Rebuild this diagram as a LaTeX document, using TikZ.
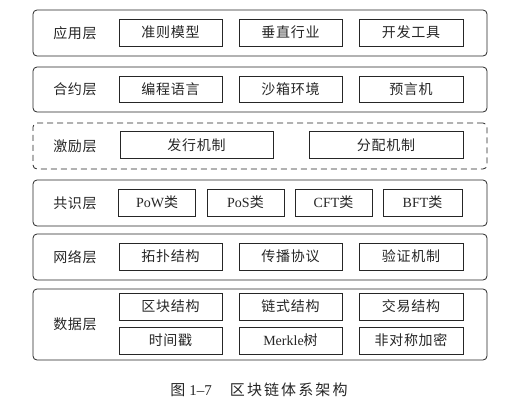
\documentclass[tikz,border=0pt]{standalone}
\usepackage{fontspec}
\setmainfont{Liberation Serif}
\newfontfamily\cjk[LetterSpace=5]{Noto Sans CJK SC}
\newfontfamily\cjkcap[LetterSpace=14]{Noto Sans CJK SC}
\begin{document}
\begin{tikzpicture}[x=1pt,y=-1pt,
  layer/.style={draw=black!85, line width=0.8pt, rounded corners=4pt, minimum width=454pt, inner sep=0pt},
  dlayer/.style={layer, dash pattern=on 6pt off 4pt},
  item/.style={draw=black!85, line width=0.8pt, inner sep=0pt, font=\fontsize{14}{16}\selectfont},
  lab/.style={font=\cjk\fontsize{14}{16}\selectfont, text=black!85},
  every node/.style={text=black!85}]
\useasboundingbox (0,0) rectangle (523,413);
% layers
\node[layer, minimum height=46pt] (L1) at (260,33) {};
\node[layer, minimum height=45pt] (L2) at (260,89.5) {};
\node[dlayer, minimum height=46pt] (L3) at (260,146) {};
\node[layer, minimum height=46pt] (L4) at (260,203) {};
\node[layer, minimum height=46pt] (L5) at (260,257) {};
\node[layer, minimum height=71pt] (L6) at (260,324.5) {};
% labels
\node[lab] (t1) at (75,33) {应用层};
\node[lab] (t2) at (75,89.5) {合约层};
\node[lab] (t3) at (75,146) {激励层};
\node[lab] (t4) at (75,203) {共识层};
\node[lab] (t5) at (75,257) {网络层};
\node[lab] (t6) at (75,324.5) {数据层};
% layer 1
\node[item, minimum width=103pt, minimum height=27pt] (a1) at (170.5,32.5) {\cjk 准则模型};
\node[item, minimum width=103pt, minimum height=27pt] (a2) at (290.5,32.5) {\cjk 垂直行业};
\node[item, minimum width=104pt, minimum height=27pt] (a3) at (411,32.5) {\cjk 开发工具};
% layer 2
\node[item, minimum width=103pt, minimum height=26pt] (b1) at (170.5,89) {\cjk 编程语言};
\node[item, minimum width=103pt, minimum height=26pt] (b2) at (290.5,89) {\cjk 沙箱环境};
\node[item, minimum width=104pt, minimum height=26pt] (b3) at (411,89) {\cjk 预言机};
% layer 3
\node[item, minimum width=153pt, minimum height=27pt] (c1) at (196.5,145) {\cjk 发行机制};
\node[item, minimum width=154pt, minimum height=27pt] (c2) at (386,145) {\cjk 分配机制};
% layer 4
\node[item, minimum width=77pt, minimum height=27pt] (d1) at (157,202.5) {PoW{\cjk 类}};
\node[item, minimum width=77pt, minimum height=27pt] (d2) at (245.5,202.5) {PoS{\cjk 类}};
\node[item, minimum width=77pt, minimum height=27pt] (d3) at (333.5,202.5) {CFT{\cjk 类}};
\node[item, minimum width=79pt, minimum height=27pt] (d4) at (422.5,202.5) {BFT{\cjk 类}};
% layer 5
\node[item, minimum width=103pt, minimum height=27pt] (e1) at (170.5,256.5) {\cjk 拓扑结构};
\node[item, minimum width=103pt, minimum height=27pt] (e2) at (290.5,256.5) {\cjk 传播协议};
\node[item, minimum width=104pt, minimum height=27pt] (e3) at (411,256.5) {\cjk 验证机制};
% layer 6
\node[item, minimum width=103pt, minimum height=27pt] (f1) at (170.5,306.5) {\cjk 区块结构};
\node[item, minimum width=103pt, minimum height=27pt] (f2) at (290.5,306.5) {\cjk 链式结构};
\node[item, minimum width=104pt, minimum height=27pt] (f3) at (411,306.5) {\cjk 交易结构};
\node[item, minimum width=103pt, minimum height=27pt] (f4) at (170.5,340.5) {\cjk 时间戳};
\node[item, minimum width=103pt, minimum height=27pt] (f5) at (290.5,340.5) {Merkle{\cjk 树}};
\node[item, minimum width=104pt, minimum height=27pt] (f6) at (411,340.5) {\cjk 非对称加密};
% caption
\node[font=\fontsize{15}{17}\selectfont] (cap) at (259,390) {{\cjk 图}\hspace{4pt}1–7\hspace{18pt}{\cjkcap 区块链体系架构}};
\end{tikzpicture}
\end{document}
